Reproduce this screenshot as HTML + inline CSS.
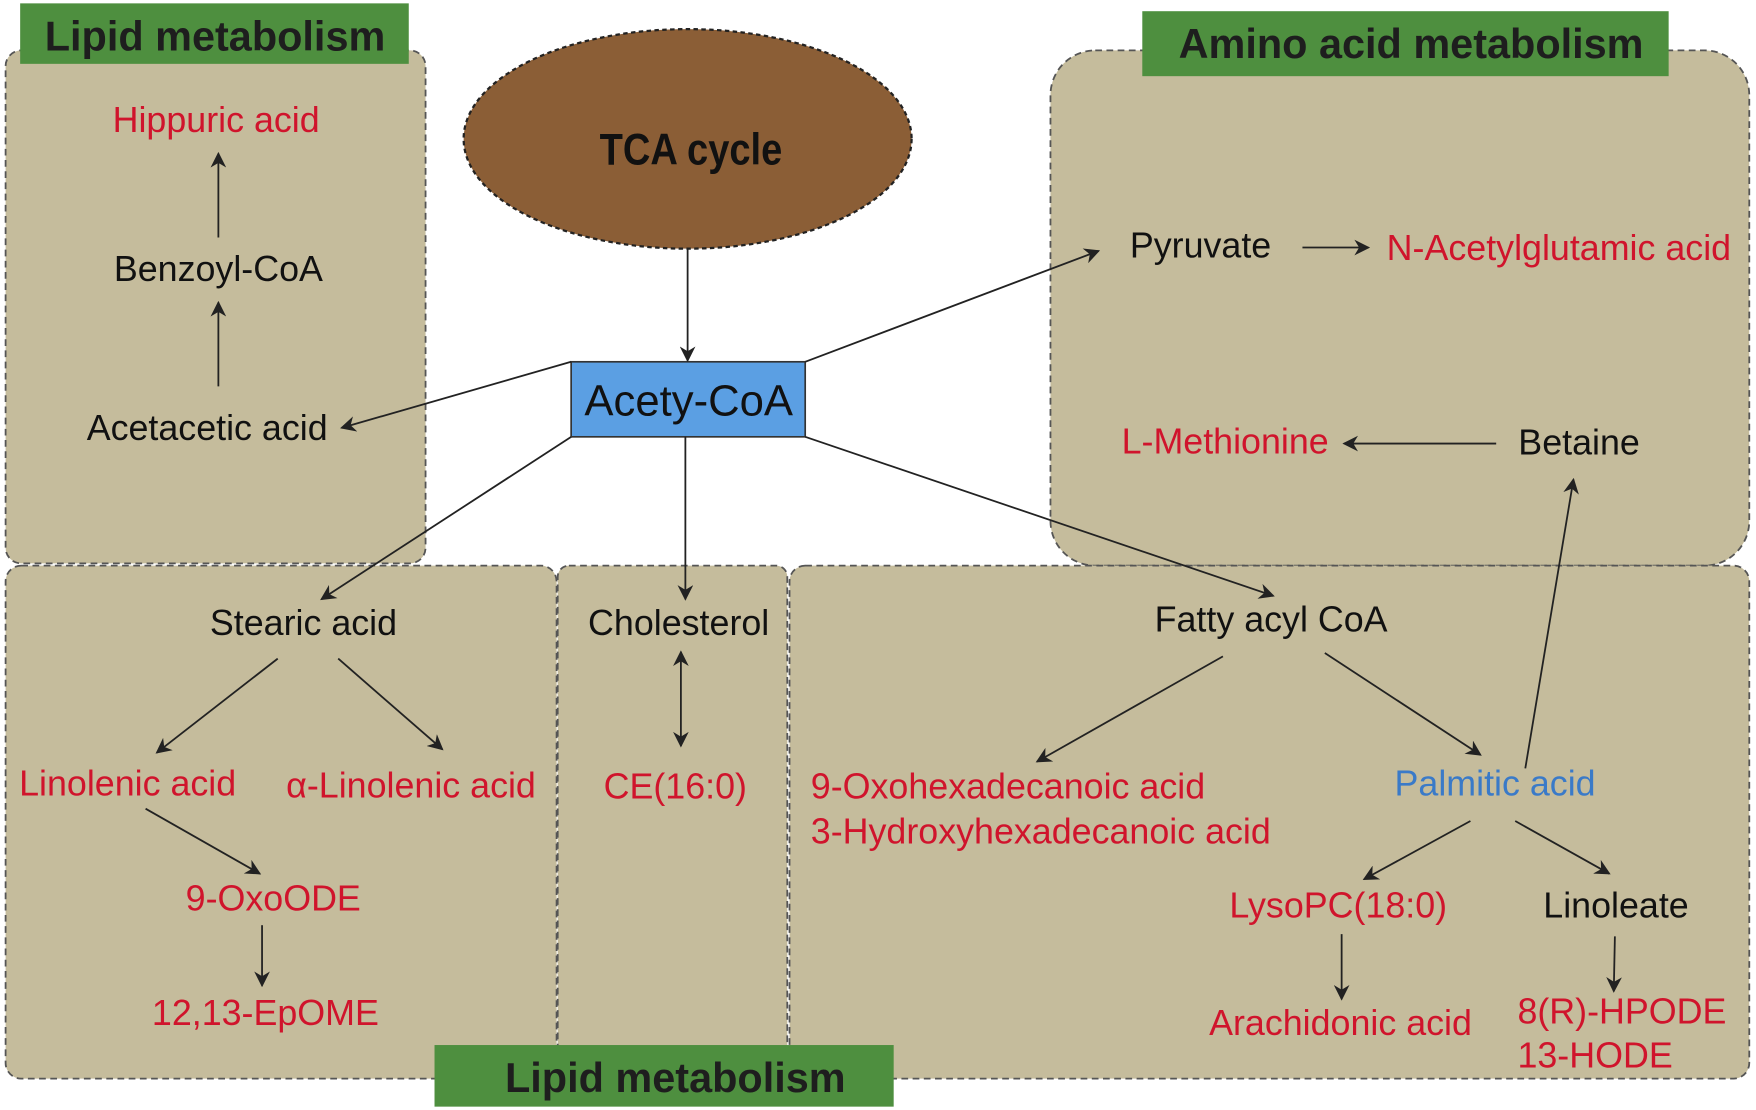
<!DOCTYPE html>
<html><head><meta charset="utf-8"><style>
html,body{margin:0;padding:0;background:#fff;}
svg{display:block;}
text{font-family:"Liberation Sans",sans-serif;}
</style></head><body>
<svg width="1756" height="1110" viewBox="0 0 1568 991" preserveAspectRatio="none" xmlns="http://www.w3.org/2000/svg">
<defs>
<marker id="a" viewBox="0 0 10 10" refX="9" refY="5" markerWidth="14" markerHeight="14" markerUnits="userSpaceOnUse" orient="auto-start-reverse">
<path d="M0,0 L10,5 L0,10 L3,5 z" fill="#222"/></marker>
</defs>
<g fill="#c5bc9c" stroke="#555" stroke-width="1.6" stroke-dasharray="6,4">
<rect x="5" y="45" width="375" height="458" rx="14"/>
<rect x="938" y="45" width="624" height="460" rx="40"/>
<rect x="5" y="505" width="492" height="458" rx="14"/>
<rect x="498" y="505" width="205" height="458" rx="10"/>
<rect x="705" y="505" width="857" height="458" rx="14"/>
</g>
<rect x="18" y="3" width="347" height="54" fill="#4e8f3f"/>
<rect x="1020" y="10" width="470" height="58" fill="#4e8f3f"/>
<rect x="388" y="933" width="410" height="55" fill="#4e8f3f"/>
<g font-weight="bold" font-size="37" fill="#1e1e1e" text-anchor="middle">
<text x="192" y="45">Lipid metabolism</text>
<text x="1260" y="52">Amino acid metabolism</text>
<text x="603" y="975">Lipid metabolism</text>
</g>
<ellipse cx="614" cy="124" rx="200" ry="98" fill="#8b5e36" stroke="#222" stroke-width="2" stroke-dasharray="4,3"/>
<text x="617" y="147" font-size="40" font-weight="bold" text-anchor="middle" fill="#111" transform="translate(617,0) scale(0.85,1) translate(-617,0)">TCA cycle</text>
<rect x="510" y="323" width="209" height="67" fill="#5b9fe3" stroke="#333" stroke-width="1.5"/>
<text x="615" y="371" font-size="39" text-anchor="middle" fill="#111">Acety-CoA</text>
<g stroke="#222" stroke-width="1.6" fill="none" marker-end="url(#a)">
<line x1="614" y1="222" x2="614" y2="322"/>
<line x1="510" y1="323" x2="305" y2="382"/>
<line x1="719" y1="323" x2="981" y2="224"/>
<line x1="510" y1="390" x2="287" y2="535"/>
<line x1="612" y1="390" x2="612" y2="535"/>
<line x1="719" y1="390" x2="1137" y2="532"/>
<line x1="195" y1="212" x2="195" y2="137"/>
<line x1="195" y1="345" x2="195" y2="270"/>
<line x1="1163" y1="221" x2="1222" y2="221"/>
<line x1="1336" y1="396" x2="1200" y2="396"/>
<line x1="248" y1="588" x2="140" y2="672"/>
<line x1="302" y1="588" x2="395" y2="669"/>
<line x1="130" y1="722" x2="232" y2="780"/>
<line x1="234" y1="826" x2="234" y2="880"/>
<line x1="608" y1="582" x2="608" y2="666" marker-start="url(#a)"/>
<line x1="1092" y1="586" x2="926" y2="680"/>
<line x1="1183" y1="583" x2="1322" y2="674"/>
<line x1="1362" y1="686" x2="1405" y2="428"/>
<line x1="1313" y1="733" x2="1218" y2="785"/>
<line x1="1353" y1="733" x2="1437" y2="780"/>
<line x1="1198" y1="834" x2="1198" y2="892"/>
<line x1="1442" y1="836" x2="1441" y2="885"/>
</g>
<g font-size="32" text-anchor="middle" fill="#111">
<text x="195" y="251">Benzoyl-CoA</text>
<text x="185" y="393">Acetacetic acid</text>
<text x="1072" y="230">Pyruvate</text>
<text x="1410" y="406">Betaine</text>
<text x="271" y="567">Stearic acid</text>
<text x="606" y="567">Cholesterol</text>
<text x="1135" y="564">Fatty acyl CoA</text>
<text x="1443" y="819">Linoleate</text>
<text x="1335" y="710" fill="#3a7ac8">Palmitic acid</text>
</g>
<g font-size="32" text-anchor="middle" fill="#d0142c">
<text x="193" y="118">Hippuric acid</text>
<text x="1392" y="232">N-Acetylglutamic acid</text>
<text x="1094" y="405">L-Methionine</text>
<text x="114" y="710">Linolenic acid</text>
<text x="367" y="712">α-Linolenic acid</text>
<text x="244" y="813">9-OxoODE</text>
<text x="237" y="915">12,13-EpOME</text>
<text x="603" y="713">CE(16:0)</text>
<text x="1195" y="819">LysoPC(18:0)</text>
<text x="1197" y="924">Arachidonic acid</text>
</g>
<g font-size="32" fill="#d0142c">
<text x="724" y="713">9-Oxohexadecanoic acid</text>
<text x="724" y="753">3-Hydroxyhexadecanoic acid</text>
<text x="1355" y="914">8(R)-HPODE</text>
<text x="1355" y="953">13-HODE</text>
</g>
</svg>
</body></html>
